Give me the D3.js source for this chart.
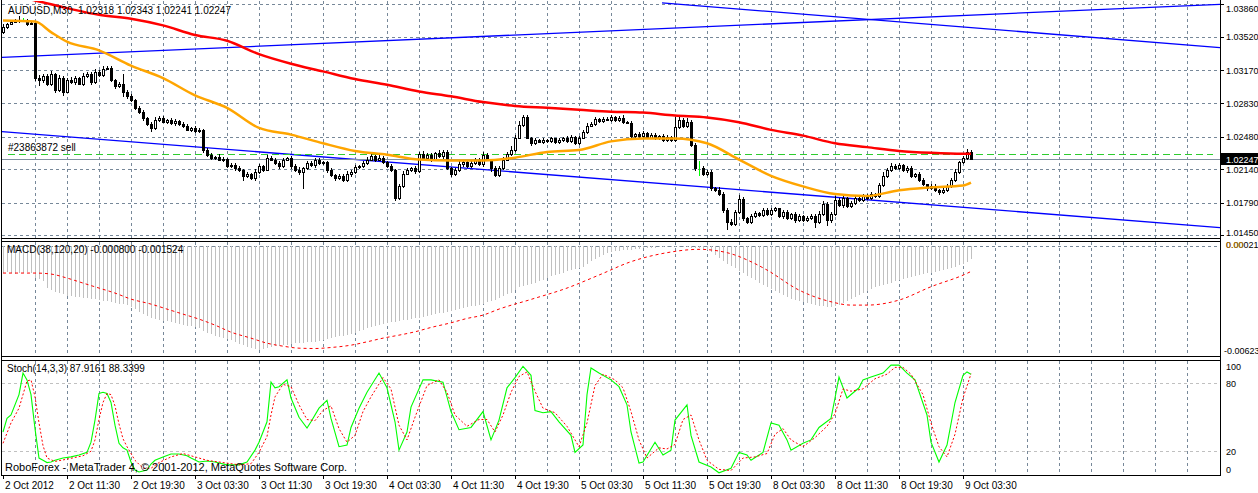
<!DOCTYPE html>
<html>
<head>
<meta charset="utf-8">
<script src="https://cdn.jsdelivr.net/npm/d3@7/dist/d3.min.js"></script>
<style>
html, body { margin:0; padding:0; background:#fff; }
svg text { font-family:"Liberation Sans", Arial, sans-serif; font-size:10px; fill:#000; white-space:pre; }
svg text.ax { font-size:9px; }
</style>
</head>
<body>
<div class="c_chart"></div>
<script>
/*DATA
------------------------------------------------------
*/
const symbolTitle = "AUDUSD,M30  1.02318 1.02343 1.02241 1.02247";
const macdTitle = "MACD(38,120,20) -0.000800 -0.001524";
const stochTitle = "Stoch(14,3,3) 87.9161 88.3399";
const footerText = "RoboForex - MetaTrader 4, \u00a9 2001-2012, MetaQuotes Software Corp.";
const orderText = "#23863872 sell";

// bar labels, one every 16 bars (8 hours)
const timeLabels = ["2 Oct 2012","2 Oct 11:30","2 Oct 19:30","3 Oct 03:30","3 Oct 11:30","3 Oct 19:30",
	"4 Oct 03:30","4 Oct 11:30","4 Oct 19:30","5 Oct 03:30","5 Oct 11:30","5 Oct 19:30",
	"8 Oct 03:30","8 Oct 11:30","8 Oct 19:30","9 Oct 03:30"];
const priceTicks = [1.01450, 1.01790, 1.02140, 1.02480, 1.02830, 1.03170, 1.03520, 1.03860];

const firstOpen = 1.0357;
// close of every M30 bar (open = close of the bar before)
const closes = [
	1.0362,1.0365,1.0368,1.0369,1.0370,1.0370,1.0365,1.0367, 1.0309,1.0307,1.0311,1.0303,1.0313,1.0297,1.0309,1.0295,
	1.0307,1.0305,1.0309,1.0303,1.0311,1.0313,1.0305,1.0315, 1.0312,1.0318,1.0320,1.0307,1.0301,1.0303,1.0295,1.0290,
	1.0286,1.0278,1.0274,1.0267,1.0261,1.0257,1.0265,1.0267, 1.0263,1.0265,1.0262,1.0264,1.0261,1.0259,1.0255,1.0257,
	1.0254,1.0255,1.0234,1.0229,1.0226,1.0227,1.0224,1.0225, 1.0217,1.0218,1.0215,1.0213,1.0207,1.0209,1.0205,1.0211,
	1.0217,1.0213,1.0226,1.0224,1.0220,1.0217,1.0224,1.0226, 1.0217,1.0213,1.0211,1.0215,1.0220,1.0218,1.0224,1.0220,
	1.0221,1.0213,1.0208,1.0205,1.0207,1.0203,1.0209,1.0211, 1.0216,1.0217,1.0220,1.0224,1.0228,1.0224,1.0226,1.0221,
	1.0217,1.0213,1.0184,1.0196,1.0209,1.0213,1.0215,1.0212, 1.0230,1.0226,1.0229,1.0224,1.0231,1.0228,1.0232,1.0215,
	1.0209,1.0213,1.0219,1.0221,1.0217,1.0220,1.0224,1.0219, 1.0229,1.0224,1.0215,1.0208,1.0215,1.0224,1.0230,1.0234,
	1.0247,1.0260,1.0268,1.0247,1.0241,1.0244,1.0242,1.0244, 1.0243,1.0246,1.0242,1.0244,1.0247,1.0243,1.0248,1.0241,
	1.0247,1.0253,1.0259,1.0261,1.0266,1.0264,1.0266,1.0265, 1.0268,1.0265,1.0267,1.0263,1.0262,1.0249,1.0251,1.0249,
	1.0252,1.0247,1.0250,1.0246,1.0249,1.0244,1.0248,1.0244, 1.0258,1.0265,1.0259,1.0263,1.0239,1.0215,1.0215,1.0209,
	1.0211,1.0194,1.0192,1.0188,1.0171,1.0159,1.0157,1.0169, 1.0183,1.0163,1.0159,1.0165,1.0168,1.0166,1.0171,1.0167,
	1.0171,1.0173,1.0165,1.0169,1.0163,1.0167,1.0161,1.0165, 1.0161,1.0163,1.0165,1.0159,1.0167,1.0178,1.0161,1.0167,
	1.0182,1.0177,1.0184,1.0176,1.0179,1.0184,1.0182,1.0186, 1.0184,1.0188,1.0186,1.0197,1.0207,1.0213,1.0217,1.0215,
	1.0218,1.0213,1.0215,1.0207,1.0209,1.0203,1.0198,1.0194, 1.0196,1.0192,1.0190,1.0192,1.0196,1.0203,1.0211,1.0221,
	1.0226,1.02318,1.02247
];
// upper / lower shadows, in pips (0.0001)
const wickUp = [
	3,2,1,2,4,2,1,2, 2,3,2,2,3,1,3,2,
	2,3,2,1,3,2,2,3, 2,4,2,2,1,2,10,2,
	2,1,2,2,1,2,3,2, 2,1,2,2,1,2,2,1,
	2,2,1,2,2,1,3,2, 1,2,2,2,1,2,1,3,
	2,1,3,2,2,3,2,1, 2,2,3,1,3,2,2,2,
	1,2,2,1,2,2,3,2, 2,1,2,3,2,1,3,2,
	2,2,1,2,3,2,1,2, 2,3,2,2,1,3,2,2,
	1,2,3,2,1,2,2,2, 3,2,1,2,2,3,2,4,
	3,4,3,2,1,2,1,2, 1,2,1,2,1,2,2,1,
	2,2,3,2,2,1,2,2, 2,1,2,3,1,2,1,2,
	2,1,2,2,1,2,2,1, 10,3,2,4,2,2,8,2,
	2,2,1,3,2,2,3,2, 4,2,1,2,2,1,2,2,
	2,2,1,2,2,1,2,2, 1,2,2,2,3,3,2,2,
	4,2,2,1,2,2,1,2, 2,2,1,3,4,2,3,2,
	2,1,2,2,1,2,2,1, 2,2,1,2,2,2,3,2,
	2,3,2.5
];
const wickDn = [
	2,2,1,1,2,1,2,1, 3,6,3,2,2,4,2,5,
	2,2,3,1,2,2,3,2, 2,2,1,2,3,2,6,3,
	2,2,2,3,2,4,2,2, 1,2,2,3,2,2,1,2,
	2,2,3,2,2,2,2,3, 2,2,3,2,5,2,2,3,
	2,2,1,2,2,3,2,2, 3,2,3,18,2,2,3,2,
	2,3,2,3,2,2,2,3, 2,2,2,2,2,3,2,2,
	2,2,3,2,2,1,2,3, 2,2,2,3,2,2,3,2,
	3,2,2,3,2,2,2,2, 3,2,4,2,2,2,2,2,
	2,2,2,2,3,2,1,2, 2,2,2,2,2,2,2,2,
	2,2,2,1,2,2,2,1, 2,2,2,2,1,2,2,2,
	2,2,2,2,2,2,2,2, 2,2,2,2,2,3,8,2,
	2,3,2,2,3,8,2,2, 2,3,2,2,2,2,2,2,
	2,2,2,3,2,2,3,2, 2,2,2,6,2,2,6,3,
	2,2,3,2,2,2,2,2, 2,2,2,2,2,2,2,2,
	2,2,3,2,2,2,2,3, 2,2,3,2,2,2,2,2,
	2,2,0.6
];

// moving averages [bar, price]
const maRed = [[0,1.0397],[8,1.0390],[16,1.0382],[24,1.0375],[32,1.0371],[40,1.0364],[48,1.0354],[56,1.0348],
	[64,1.0334],[72,1.0324],[80,1.0316],[88,1.0308],[96,1.0302],[104,1.0295],[112,1.0290],[120,1.0284],
	[128,1.0280],[136,1.0278],[144,1.0276],[152,1.0274],[160,1.0273],[168,1.0270],[176,1.0268],[184,1.0263],
	[192,1.0255],[200,1.0249],[208,1.0241],[216,1.0237],[224,1.0233],[232,1.0231],[240,1.0230],[242,1.0230]];
const maOrange = [[0,1.0369],[8,1.0368],[12,1.0357],[16,1.0347],[24,1.0338],[32,1.0322],[40,1.0309],[48,1.0291],
	[56,1.0278],[64,1.0257],[72,1.0250],[80,1.0241],[88,1.0233],[96,1.0229],[104,1.0224],[112,1.0223],
	[120,1.0223],[128,1.0226],[136,1.0232],[144,1.0234],[152,1.0243],[160,1.0246],[168,1.0246],[176,1.0241],
	[184,1.0224],[192,1.0207],[200,1.0196],[208,1.0188],[216,1.0186],[224,1.0192],[232,1.0195],[240,1.0197],[242,1.0200]];

// trend lines drawn on the chart [bar, price]
const trendLines = [
	[[-0.75, 1.03305], [304.25, 1.03860]],
	[[164.75, 1.03874], [304.25, 1.03409]],
	[[-0.75, 1.02533], [304.25, 1.01531]]
];
const orderPrice = 1.02295;
const bidPrice = 1.02247;

// MACD main, units of 0.00001
const macdMain = [
	-162,-156,-162,-168,-162,-162,-156,-162, -192,-198,-210,-252,-264,-276,-282,-288,
	-300,-300,-306,-306,-312,-312,-318,-318, -324,-330,-330,-336,-342,-348,-348,-354,
	-366,-378,-396,-408,-420,-432,-438,-444, -450,-450,-456,-462,-468,-474,-480,-480,
	-486,-492,-510,-522,-528,-540,-546,-552, -558,-564,-576,-588,-594,-606,-612,-618,
	-623,-618,-612,-606,-600,-600,-594,-594, -588,-582,-582,-582,-576,-576,-576,-570,
	-564,-558,-552,-546,-540,-540,-534,-528, -522,-510,-504,-492,-486,-480,-474,-468,
	-462,-456,-456,-450,-444,-444,-438,-432, -432,-426,-420,-414,-408,-402,-402,-396,
	-390,-384,-378,-372,-366,-360,-360,-354, -348,-336,-330,-324,-312,-300,-288,-282,
	-264,-246,-240,-234,-228,-222,-210,-204, -192,-180,-174,-168,-162,-150,-144,-138,
	-132,-126,-108,-90,-78,-66,-54,-42, -36,-30,-30,-24,-24,-24,-18,-18,
	-12,-12,-12,-12,-6,-6,-6,-6, -6,-6,-6,-6,-12,-12,-12,-18,
	-24,-36,-54,-72,-90,-108,-120,-132, -150,-162,-180,-192,-204,-222,-234,-246,
	-258,-270,-282,-294,-306,-318,-324,-330, -336,-342,-348,-354,-360,-360,-366,-366,
	-360,-354,-342,-330,-318,-306,-294,-282, -270,-258,-246,-240,-234,-228,-222,-210,
	-204,-198,-192,-186,-180,-174,-168,-162, -162,-156,-150,-144,-138,-132,-126,-114,
	-108,-96,-80
];
// MACD signal [bar, value in 0.00001]
const macdSignal = [[0,-162],[8,-162],[12,-168],[16,-192],[20,-222],[24,-252],[28,-282],[32,-318],[37,-348],
	[41,-378],[45,-408],[49,-438],[53,-474],[57,-516],[62,-552],[66,-582],[70,-600],[74,-612],[78,-614],
	[82,-608],[87,-594],[91,-574],[95,-552],[99,-534],[103,-514],[107,-488],[112,-460],[116,-434],[120,-414],
	[124,-378],[132,-320],[141,-252],[149,-174],[157,-94],[166,-40],[174,-20],[181,-40],[187,-94],[191,-144],
	[199,-264],[207,-334],[212,-354],[216,-354],[224,-324],[232,-244],[241,-164],[242,-152.4]];

// Stochastic [bar, value]
const stochMain = [[0,37],[1,49],[2,52],[4,70],[5,89],[6,83],[7,70],[8,40],[9,14],[10,12],[11,10],[12,10.5],[13,12],
	[15,14],[17,15],[19,16.7],[21,19],[22,28],[23,47.5],[24,71],[25,72],[26,71],[27,63],[28,43],[29,27],[30,23],
	[31,21],[32,10.5],[33,3.4],[34,1.7],[36,3.4],[37,8.7],[38,12],[40,15],[42,17.6],[44,17.6],[46,16],[47,14],
	[49,10.5],[51,11.4],[53,10.5],[56,8],[59,8],[61,10.5],[63,21],[64,28],[66,46],[67,81],[68,76],[69,77],[71,83],
	[72,67],[74,50],[76,40.5],[77,46],[79,58],[81,65],[82,49],[84,24],[86,25.5],[87,41],[89,58],[91,72],[94,89],
	[96,76],[98,46],[99,21],[101,37],[102,59],[105,83],[107,83],[110,81],[112,55],[114,39],[117,41],[120,55],
	[122,30],[124,47.5],[126,76],[128,85],[130,95],[132,87],[133,56],[135,54],[137,55],[139,46],[142,34],[143,19],
	[145,25.5],[146,70],[147,93.5],[149,89],[152,83],[154,77],[156,61],[157,37],[159,9.6],[160,10.5],[163,28],
	[165,16.7],[167,21],[168,47.5],[171,61],[172,34],[174,10.5],[177,6],[179,1],[182,5],[184,19],[186,16.7],
	[187,12],[190,19],[192,45],[194,43],[196,30],[197,21],[200,27],[202,30],[204,41],[207,49],[208,67],[209,85.5],
	[211,67],[214,76],[215,83],[217,85.5],[220,89],[222,96],[224,96],[226,89],[228,83],[231,52],[232,28],[234,10.5],
	[236,25.5],[238,63],[240,87],[241,90],[242,87.9161]];
const stochSignal = [[0,27],[2,45],[4,58],[6,82],[7,83],[8,68],[9,45],[10,25],[11,14],[13,11],[16,13],[20,16],
	[22,20],[23,30],[24,48],[25,63],[26,71],[27,70],[28,60],[29,44],[30,31],[31,24],[33,12],[35,5],[37,5],[39,10],
	[42,15],[45,18],[48,15],[51,12],[55,10],[59,8],[62,9],[64,19],[66,33],[67,52],[68,68],[70,79],[72,77],[74,61],
	[76,48],[78,47],[80,56],[82,60],[84,40],[86,28],[88,34],[90,55],[92,68],[95,85],[97,75],[99,43],[101,30],
	[103,50],[106,78],[109,83],[111,72],[113,52],[116,42],[119,48],[121,48],[123,37],[125,52],[127,72],[129,86],
	[131,90],[133,73],[135,58],[138,54],[141,42],[144,24],[146,45],[148,78],[150,88],[153,83],[155,76],[157,55],
	[159,30],[161,14],[164,23],[166,22],[168,26],[170,48],[172,52],[174,30],[176,12],[179,4],[182,3],[185,14],
	[188,15],[191,18],[193,35],[195,40],[197,30],[200,24],[203,32],[206,42],[208,53],[210,75],[212,73],[215,75],
	[218,84],[221,88],[223,94],[225,94],[227,88],[230,70],[232,45],[234,24],[236,15],[238,35],[240,67],[242,88.3399]];
const stochLevels = [20, 80];
const stochLabels = [0, 20, 80, 100];


/*SVG, LAYOUT
------------------------------------------------------
*/
const width = 1258, height = 493;
const right = 1220;
const pane = {
	price: {top: 0, bottom: 238},
	macd: {top: 241, bottom: 356},
	stoch: {top: 360, bottom: 475}
};
const gridColor = "#778899";

let svg = d3.select(".c_chart").append("svg")
	.attr("width", width)
	.attr("height", height)
	.style("display", "block");

//scales
let x = d3.scaleLinear().domain([0, 242]).range([3, 971]);
let yPrice = d3.scaleLinear().domain([1.0145, 1.0386]).range([235.3, 4.3]);
let yMacd = d3.scaleLinear().domain([-0.00623, 0.00021]).range([350, 242.5]);
let yStoch = d3.scaleLinear().domain([0, 100]).range([473.9, 360.6]);

const px = v => Math.round(v) + 0.5;

//clip paths
let defs = svg.append("defs");
Object.entries(pane).forEach(([k, p]) => {
	defs.append("clipPath").attr("id", "clip-" + k)
		.append("rect").attr("x", 2).attr("y", p.top + 1)
		.attr("width", right - 2).attr("height", p.bottom - p.top - 1);
});

/*GRID
------------------------------------------------------
*/
let gridBars = d3.range(8, 300, 8);
Object.values(pane).forEach(p => {
	svg.append("g").selectAll("line")
		.data(gridBars).enter().append("line")
		.attr("x1", d => px(x(d))).attr("x2", d => px(x(d)))
		.attr("y1", p.top + 1).attr("y2", p.bottom)
		.attr("stroke", gridColor).attr("stroke-dasharray", "3,3")
		.attr("shape-rendering", "crispEdges");
});

svg.append("g").selectAll("line")
	.data(priceTicks).enter().append("line")
	.attr("x1", 2).attr("x2", right)
	.attr("y1", d => px(yPrice(d))).attr("y2", d => px(yPrice(d)))
	.attr("stroke", gridColor).attr("stroke-dasharray", "3,3")
	.attr("shape-rendering", "crispEdges");

svg.append("line")
	.attr("x1", 2).attr("x2", right)
	.attr("y1", px(yMacd(0))).attr("y2", px(yMacd(0)))
	.attr("stroke", gridColor).attr("stroke-dasharray", "3,3")
	.attr("shape-rendering", "crispEdges");

svg.append("g").selectAll("line")
	.data(stochLevels).enter().append("line")
	.attr("x1", 2).attr("x2", right)
	.attr("y1", d => px(yStoch(d))).attr("y2", d => px(yStoch(d)))
	.attr("stroke", "#c0c0c0").attr("stroke-dasharray", "3,3")
	.attr("shape-rendering", "crispEdges");

/*PRICE PANE
------------------------------------------------------
*/
let gPrice = svg.append("g").attr("clip-path", "url(#clip-price)");

//trend lines
gPrice.selectAll(".trend")
	.data(trendLines).enter().append("line")
	.attr("class", "trend")
	.attr("x1", d => x(d[0][0])).attr("y1", d => yPrice(d[0][1]))
	.attr("x2", d => x(d[1][0])).attr("y2", d => yPrice(d[1][1]))
	.attr("stroke", "#0000ff").attr("stroke-width", 1.3);

//order line + bid line
gPrice.append("line")
	.attr("x1", 8).attr("x2", right - 7)
	.attr("y1", px(yPrice(orderPrice))).attr("y2", px(yPrice(orderPrice)))
	.attr("stroke", "#2ecc2e").attr("stroke-dasharray", "7,4")
	.attr("shape-rendering", "crispEdges");
gPrice.append("line")
	.attr("x1", 2).attr("x2", right)
	.attr("y1", px(yPrice(bidPrice))).attr("y2", px(yPrice(bidPrice)))
	.attr("stroke", "#8090a0")
	.attr("shape-rendering", "crispEdges");

//candles
let candles = closes.map((c, i) => {
	let o = i === 0 ? firstOpen : closes[i - 1];
	return {
		i: i, o: o, c: c,
		h: Math.max(o, c) + wickUp[i] / 10000,
		l: Math.min(o, c) - wickDn[i] / 10000
	};
});

let gCandle = gPrice.append("g").attr("shape-rendering", "crispEdges");
gCandle.selectAll(".wick")
	.data(candles).enter().append("line")
	.attr("class", "wick")
	.attr("x1", d => px(x(d.i))).attr("x2", d => px(x(d.i)))
	.attr("y1", d => Math.round(yPrice(d.h))).attr("y2", d => Math.round(yPrice(d.l)))
	.attr("stroke", d => Math.abs(d.o - d.c) < 1e-7 ? "#00ff00" : "#000");
gCandle.selectAll(".body")
	.data(candles).enter().append("rect")
	.attr("class", "body")
	.attr("x", d => Math.round(x(d.i)) - 1 + 0.5)
	.attr("width", 2)
	.attr("y", d => Math.round(yPrice(Math.max(d.o, d.c))) + 0.5)
	.attr("height", d => Math.max(0, Math.round(yPrice(Math.min(d.o, d.c))) - Math.round(yPrice(Math.max(d.o, d.c)))))
	.attr("fill", d => d.c > d.o ? "#fff" : "#000")
	.attr("stroke", d => Math.abs(d.o - d.c) < 1e-7 ? "#00ff00" : "#000");

//moving averages
let maLine = d3.line()
	.x(d => x(d[0]))
	.y(d => yPrice(d[1]))
	.curve(d3.curveMonotoneX);
gPrice.append("path").datum(maRed)
	.attr("d", maLine).attr("fill", "none")
	.attr("stroke", "#ff0000").attr("stroke-width", 2.5);
gPrice.append("path").datum(maOrange)
	.attr("d", maLine).attr("fill", "none")
	.attr("stroke", "#ffa500").attr("stroke-width", 2.5);

//texts
svg.append("text").attr("x", 8).attr("y", 14).text(symbolTitle);
svg.append("text").attr("x", 8).attr("y", yPrice(orderPrice) - 3).text(orderText);

/*MACD PANE
------------------------------------------------------
*/
let gMacd = svg.append("g").attr("clip-path", "url(#clip-macd)");
gMacd.append("g").attr("shape-rendering", "crispEdges")
	.selectAll("line")
	.data(macdMain).enter().append("line")
	.attr("x1", (d, i) => px(x(i))).attr("x2", (d, i) => px(x(i)))
	.attr("y1", Math.round(yMacd(0)))
	.attr("y2", d => Math.round(yMacd(d / 100000)))
	.attr("stroke", "#c0c0c0");

gMacd.append("path").datum(macdSignal)
	.attr("d", d3.line().x(d => x(d[0])).y(d => yMacd(d[1] / 100000)).curve(d3.curveMonotoneX))
	.attr("fill", "none").attr("stroke", "#ff0000")
	.attr("stroke-dasharray", "3,3");

svg.append("text").attr("x", 7).attr("y", 253).text(macdTitle);

/*STOCHASTIC PANE
------------------------------------------------------
*/
let gStoch = svg.append("g").attr("clip-path", "url(#clip-stoch)");
let stochLine = d3.line().x(d => x(d[0])).y(d => yStoch(d[1]));
gStoch.append("path").datum(stochMain)
	.attr("d", stochLine).attr("fill", "none")
	.attr("stroke", "#00ff00").attr("stroke-width", 1.1);
gStoch.append("path").datum(stochSignal)
	.attr("d", stochLine).attr("fill", "none")
	.attr("stroke", "#ff0000").attr("stroke-dasharray", "2,2");

svg.append("text").attr("x", 7).attr("y", 372).text(stochTitle);
svg.append("text").attr("x", 5).attr("y", 471)
	.style("font-size", "11px").text(footerText);

/*FRAMES
------------------------------------------------------
*/
let frame = svg.append("g").attr("stroke", "#000").attr("shape-rendering", "crispEdges");
frame.append("line").attr("x1", 1.5).attr("x2", 1.5).attr("y1", 0).attr("y2", pane.stoch.bottom + 0.5);
frame.append("line").attr("x1", right + 0.5).attr("x2", right + 0.5).attr("y1", 0).attr("y2", pane.stoch.bottom + 0.5);
Object.values(pane).forEach(p => {
	if (p.top > 0) frame.append("line").attr("x1", 1).attr("x2", right + 1).attr("y1", p.top + 0.5).attr("y2", p.top + 0.5);
	frame.append("line").attr("x1", 1).attr("x2", right + 1).attr("y1", p.bottom + 0.5).attr("y2", p.bottom + 0.5);
});

/*AXES
------------------------------------------------------
*/
//price axis
let pAxis = svg.append("g");
pAxis.selectAll("line")
	.data(priceTicks).enter().append("line")
	.attr("x1", right).attr("x2", right + 4)
	.attr("y1", d => px(yPrice(d))).attr("y2", d => px(yPrice(d)))
	.attr("stroke", "#000").attr("shape-rendering", "crispEdges");
pAxis.selectAll("text")
	.data(priceTicks).enter().append("text")
	.attr("class", "ax")
	.attr("x", right + 6).attr("y", d => Math.max(8, Math.min(yPrice(d), 232)) + 3.5)
	.text(d => d3.format(".5f")(d));

//bid label
svg.append("rect")
	.attr("x", right + 1).attr("y", Math.round(yPrice(bidPrice)) - 6)
	.attr("width", width - right).attr("height", 12)
	.attr("fill", "#000");
svg.append("text")
	.attr("class", "ax")
	.attr("x", right + 6).attr("y", Math.round(yPrice(bidPrice)) + 3.5)
	.style("fill", "#fff").text(d3.format(".5f")(bidPrice));

//macd axis
svg.append("text").attr("class", "ax").attr("x", right + 6).attr("y", 248).text("0.00021");
svg.append("text").attr("class", "ax").attr("x", right + 6).attr("y", 248).style("fill", "#c08000").text("0.00");
svg.append("text").attr("class", "ax").attr("x", right + 4).attr("y", 354).text("-0.00623");

//stoch axis
svg.append("g").selectAll("text")
	.data(stochLabels).enter().append("text")
	.attr("class", "ax")
	.attr("x", right + 6)
	.attr("y", d => Math.max(366, Math.min(469, yStoch(d))) + 3.5)
	.text(d => d);

//time axis
let tAxis = svg.append("g");
tAxis.selectAll("line")
	.data(timeLabels).enter().append("line")
	.attr("x1", (d, i) => px(x(i * 16))).attr("x2", (d, i) => px(x(i * 16)))
	.attr("y1", pane.stoch.bottom).attr("y2", pane.stoch.bottom + 4)
	.attr("stroke", "#000").attr("shape-rendering", "crispEdges");
tAxis.selectAll("text")
	.data(timeLabels).enter().append("text")
	.attr("x", (d, i) => x(i * 16) + 2).attr("y", 489)
	.text(d => d);
</script>
</body>
</html>
